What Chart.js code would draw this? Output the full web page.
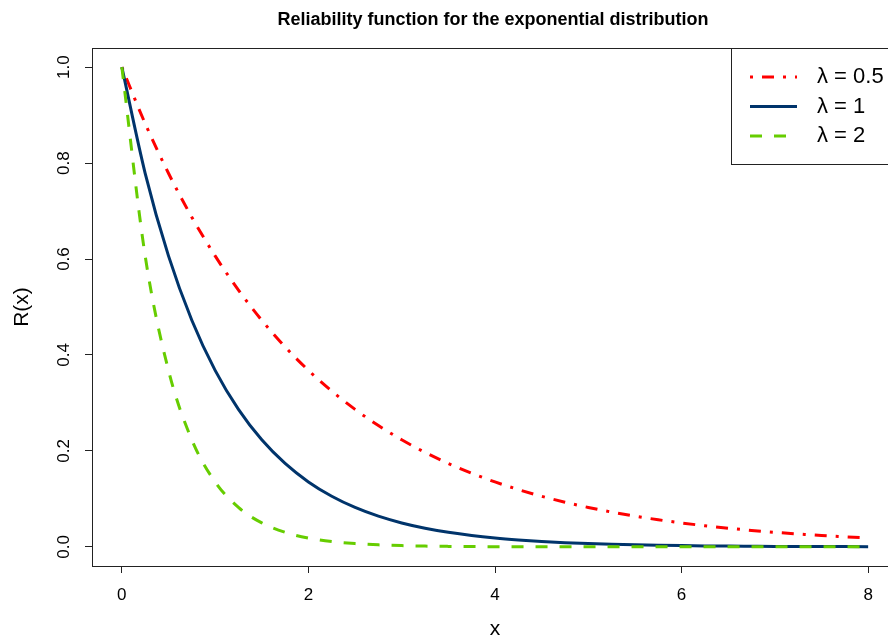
<!DOCTYPE html>
<html>
<head>
<meta charset="utf-8">
<script src="https://cdn.jsdelivr.net/npm/chart.js@4.4.0/dist/chart.umd.min.js"></script>
<style>
  html, body { margin: 0; padding: 0; overflow: hidden; background: #fff; }
  #wrap { width: 898px; height: 642px; }
</style>
</head>
<body>
<div id="wrap"><canvas id="chart" width="898" height="642"></canvas></div>
<script>
// values
const xValues = [0, 0.25, 0.5, 0.75, 1, 1.25, 1.5, 1.75, 2, 2.25, 2.5, 2.75, 3, 3.25, 3.5, 3.75,
                 4, 4.25, 4.5, 4.75, 5, 5.25, 5.5, 5.75, 6, 6.25, 6.5, 6.75, 7, 7.25, 7.5, 7.75, 8];
const rHalf = [1, 0.8825, 0.7788, 0.6873, 0.6065, 0.5353, 0.4724, 0.4169, 0.3679, 0.3247, 0.2865,
               0.2528, 0.2231, 0.1969, 0.1738, 0.1534, 0.1353, 0.1194, 0.1054, 0.0930, 0.0821,
               0.0724, 0.0639, 0.0564, 0.0498, 0.0439, 0.0388, 0.0342, 0.0302, 0.0267, 0.0235,
               0.0208, 0.0183];
const rOne = [1, 0.7788, 0.6065, 0.4724, 0.3679, 0.2865, 0.2231, 0.1738, 0.1353, 0.1054, 0.0821,
              0.0639, 0.0498, 0.0388, 0.0302, 0.0235, 0.0183, 0.0143, 0.0111, 0.0087, 0.0067,
              0.0052, 0.0041, 0.0032, 0.0025, 0.0019, 0.0015, 0.0012, 0.0009, 0.0007, 0.0006,
              0.0004, 0.0003];
const rTwo = [1, 0.6065, 0.3679, 0.2231, 0.1353, 0.0821, 0.0498, 0.0302, 0.0183, 0.0111, 0.0067,
              0.0041, 0.0025, 0.0015, 0.0009, 0.0006, 0.0003, 0.0002, 0.0001, 0.0001, 0, 0, 0, 0,
              0, 0, 0, 0, 0, 0, 0, 0, 0];
const seriesLabels = ['λ = 0.5', 'λ = 1', 'λ = 2'];
const xTicks = [0, 2, 4, 6, 8];
const yTicks = [0, 0.2, 0.4, 0.6, 0.8, 1.0];
const yTickLabels = ['0.0', '0.2', '0.4', '0.6', '0.8', '1.0'];

const FONT = '"Liberation Sans", Arial, Helvetica, sans-serif';

function pts(ys) {
    return xValues.map((x, i) => ({ x: x, y: ys[i] }));
}

// frame, y labels, titles and the boxed legend, R style
const rDecor = {
    id: 'rDecor',
    afterDraw(chart) {
        const ctx = chart.ctx;
        const a = chart.chartArea;
        const ys = chart.scales.y;
        ctx.save();
        ctx.strokeStyle = '#222';
        ctx.lineWidth = 1;
        ctx.strokeRect(a.left + 0.5, a.top + 0.5, a.right - a.left, a.bottom - a.top);

        ctx.fillStyle = '#000';
        ctx.font = '17px ' + FONT;
        ctx.textAlign = 'center';
        ctx.textBaseline = 'middle';
        yTicks.forEach((v, i) => {
            ctx.save();
            ctx.translate(64, ys.getPixelForValue(v));
            ctx.rotate(-Math.PI / 2);
            ctx.fillText(yTickLabels[i], 0, 0);
            ctx.restore();
        });

        const cx = (a.left + a.right) / 2;
        ctx.font = 'bold 18px ' + FONT;
        ctx.fillText('Reliability function for the exponential distribution', cx - 2, 20);

        ctx.font = '21px ' + FONT;
        ctx.fillText('x', cx, 629);
        ctx.save();
        ctx.translate(22, (a.top + a.bottom) / 2);
        ctx.rotate(-Math.PI / 2);
        ctx.fillText('R(x)', 0, 0);
        ctx.restore();

        // legend box
        const bx = 731, by = a.top, bw = a.right - bx, bh = 116;
        ctx.fillStyle = '#fff';
        ctx.fillRect(bx, by, bw, bh);
        ctx.strokeStyle = '#222';
        ctx.strokeRect(bx + 0.5, by + 0.5, bw, bh);
        chart.data.datasets.forEach((ds, i) => {
            const ry = 77 + i * 29.5;
            ctx.strokeStyle = ds.borderColor;
            ctx.lineWidth = ds.borderWidth;
            ctx.setLineDash(ds.borderDash || []);
            ctx.beginPath();
            ctx.moveTo(750, ry);
            ctx.lineTo(797, ry);
            ctx.stroke();
            ctx.setLineDash([]);
            ctx.fillStyle = '#000';
            ctx.font = '22px ' + FONT;
            ctx.textAlign = 'left';
            ctx.fillText(ds.label, 817, ry);
        });
        ctx.restore();
    }
};

new Chart(document.getElementById('chart'), {
    type: 'line',
    data: {
        datasets: [
            { label: seriesLabels[0], data: pts(rHalf), borderColor: '#ff0000', borderWidth: 3,
              borderDash: [3, 9, 12, 9], order: 3 },
            { label: seriesLabels[1], data: pts(rOne), borderColor: '#00346b', borderWidth: 3,
              borderDash: [], order: 2 },
            { label: seriesLabels[2], data: pts(rTwo), borderColor: '#66cd00', borderWidth: 3,
              borderDash: [12, 12], order: 1 }
        ]
    },
    options: {
        responsive: false,
        animation: false,
        devicePixelRatio: 1,
        layout: { padding: { top: 48, left: 0, right: 0, bottom: 0 } },
        elements: {
            point: { radius: 0 },
            line: { cubicInterpolationMode: 'monotone', borderCapStyle: 'butt', fill: false }
        },
        plugins: {
            legend: { display: false },
            title: { display: false },
            tooltip: { enabled: false }
        },
        scales: {
            x: {
                type: 'linear',
                min: -0.32,
                max: 8.32,
                afterBuildTicks: s => { s.ticks = xTicks.map(v => ({ value: v })); },
                afterFit: s => { s.height = 76; },
                border: { display: false },
                grid: { drawOnChartArea: false, drawTicks: true, tickLength: 7, color: '#222', lineWidth: 1 },
                ticks: { color: '#000', font: { family: FONT, size: 17 }, padding: 12,
                         maxRotation: 0, callback: v => String(v) }
            },
            y: {
                min: -0.04,
                max: 1.04,
                afterBuildTicks: s => { s.ticks = yTicks.map(v => ({ value: v })); },
                afterFit: s => { s.width = 92; },
                border: { display: false },
                grid: { drawOnChartArea: false, drawTicks: true, tickLength: 7, color: '#222', lineWidth: 1 },
                ticks: { display: false }
            }
        }
    },
    plugins: [rDecor]
});
</script>
</body>
</html>
